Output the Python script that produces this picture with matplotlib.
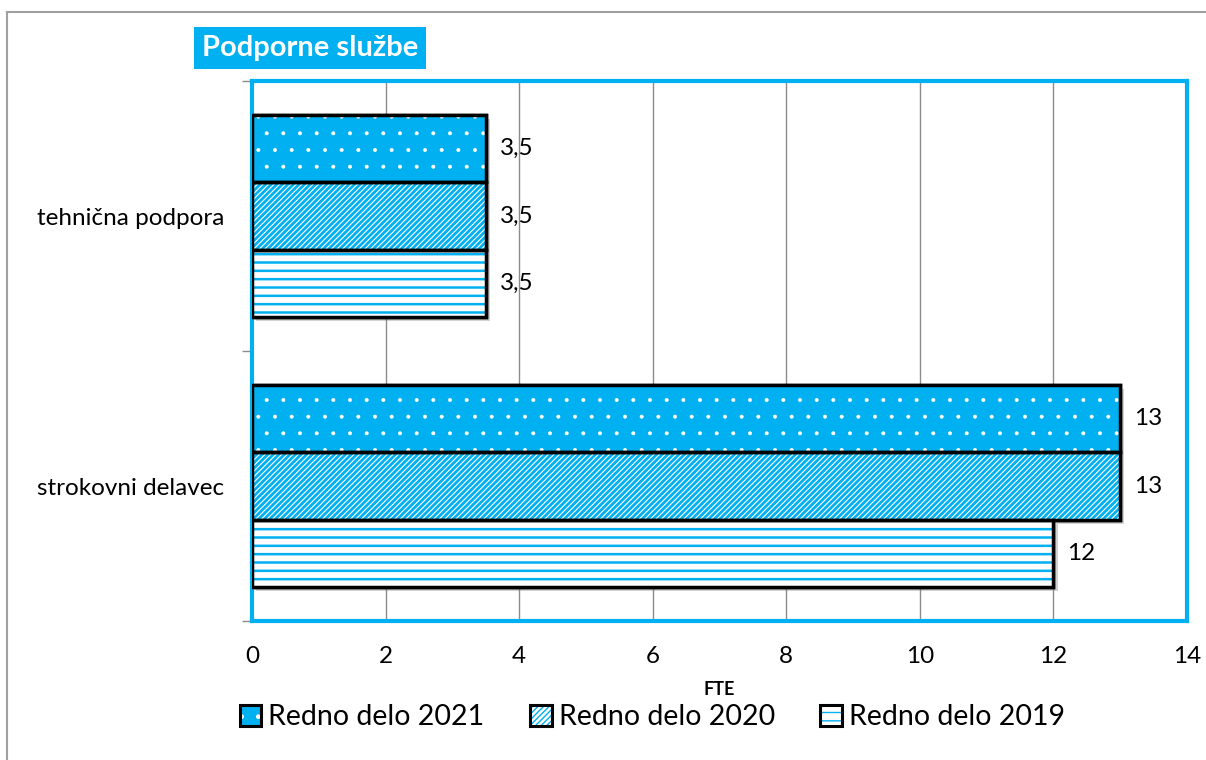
import matplotlib
matplotlib.use("Agg")
import matplotlib.pyplot as plt
from matplotlib.patches import Patch
from matplotlib.lines import Line2D
from matplotlib.legend_handler import HandlerTuple
import matplotlib.patheffects as pe

plt.rcParams["font.family"] = ["Lato", "DejaVu Sans"]

categories = ["strokovni delavec", "tehnična podpora"]
series_names = ["Redno delo 2019", "Redno delo 2020", "Redno delo 2021"]
values_2019 = [12, 3.5]
values_2020 = [13, 3.5]
values_2021 = [13, 3.5]
x_ticks = [0, 2, 4, 6, 8, 10, 12, 14]

CYAN = "#00B0F0"
series = [
    # (values, face, hatch colour, hatch, hatch linewidth)
    (values_2019, "white", CYAN, "--", 1.8),
    (values_2020, "white", CYAN, "//////", 2.0),
    (values_2021, CYAN, "white", ".", 0.4),
]

fig = plt.figure(figsize=(12.06, 7.6), dpi=100)
ax = fig.add_axes([0.2090, 0.1829, 0.7753, 0.7105])

h = 0.25
offsets = [-h, 0, h]
shadow = [pe.SimplePatchShadow(offset=(3, -3), alpha=0.35, shadow_rgbFace="gray"), pe.Normal()]


def fmt(v):
    return f"{v:g}".replace(".", ",")


handles = []
for (vals, face, hcol, hatch, hlw), off in zip(series, offsets):
    ys = [i + off for i in range(len(categories))]
    plt.rcParams["hatch.linewidth"] = hlw
    ax.barh(ys, vals, height=h, color="white", edgecolor="black", linewidth=2.5,
            zorder=2, path_effects=shadow)
    ax.barh(ys, vals, height=h, color=face, edgecolor=hcol, hatch=hatch,
            linewidth=0, zorder=3)
    ax.barh(ys, vals, height=h, fill=False, edgecolor="black", linewidth=2.5, zorder=4)
    for y, v in zip(ys, vals):
        ax.annotate(fmt(v), (v, y), xytext=(10, 0), textcoords="offset points",
                    ha="left", va="center", fontsize=17.5)
    fillp = Patch(facecolor=face, edgecolor=hcol, hatch=hatch, linewidth=0)
    edgep = Patch(fill=False, edgecolor="black", linewidth=2.2)
    handles.append((fillp, edgep))
plt.rcParams["hatch.linewidth"] = 1.0

ax.set_xlim(0, 14)
ax.set_ylim(-0.5, 1.5)
ax.set_xticks(x_ticks)
ax.set_xticklabels([str(t) for t in x_ticks], fontsize=17.5)
ax.set_yticks(range(len(categories)))
ax.set_yticklabels(categories, fontsize=17.5)
ax.set_yticks([-0.5, 0.5, 1.5], minor=True)
ax.tick_params(axis="y", which="major", length=0, pad=20)
ax.tick_params(axis="y", which="minor", length=7, color="#8c8c8c", width=1)
ax.tick_params(axis="x", length=0, pad=18)
ax.grid(axis="x", color="#8c8c8c", linewidth=1, zorder=0)
ax.set_axisbelow(True)
for sp in ax.spines.values():
    sp.set_color(CYAN)
    sp.set_linewidth(3)
ax.set_xlabel("FTE", fontsize=13, fontweight="bold", labelpad=10)

# legend in reverse (2021 first)
leg_handles = handles[::-1]
leg_labels = series_names[::-1]
fig.legend(leg_handles, leg_labels, loc="center", bbox_to_anchor=(0.541, 0.056),
           ncol=3, frameon=False, fontsize=20.5, handlelength=0.75, handleheight=0.75,
           handletextpad=0.25, columnspacing=1.6,
           handler_map={tuple: HandlerTuple(ndivide=1)})

# title box
fig.text(0.1675, 0.9368, "Podporne službe", color="white", fontsize=21,
         fontweight="bold", ha="left", va="center",
         bbox=dict(facecolor=CYAN, edgecolor="none", boxstyle="square,pad=0.28"))

# outer chart border (left and top visible)
fig.add_artist(Line2D([7 / 1206, 7 / 1206], [0, 1 - 12 / 760], color="#a0a0a0", linewidth=1.5))
fig.add_artist(Line2D([7 / 1206, 1], [1 - 12 / 760, 1 - 12 / 760], color="#a0a0a0", linewidth=1.5))

fig.savefig("out.png", dpi=100)
